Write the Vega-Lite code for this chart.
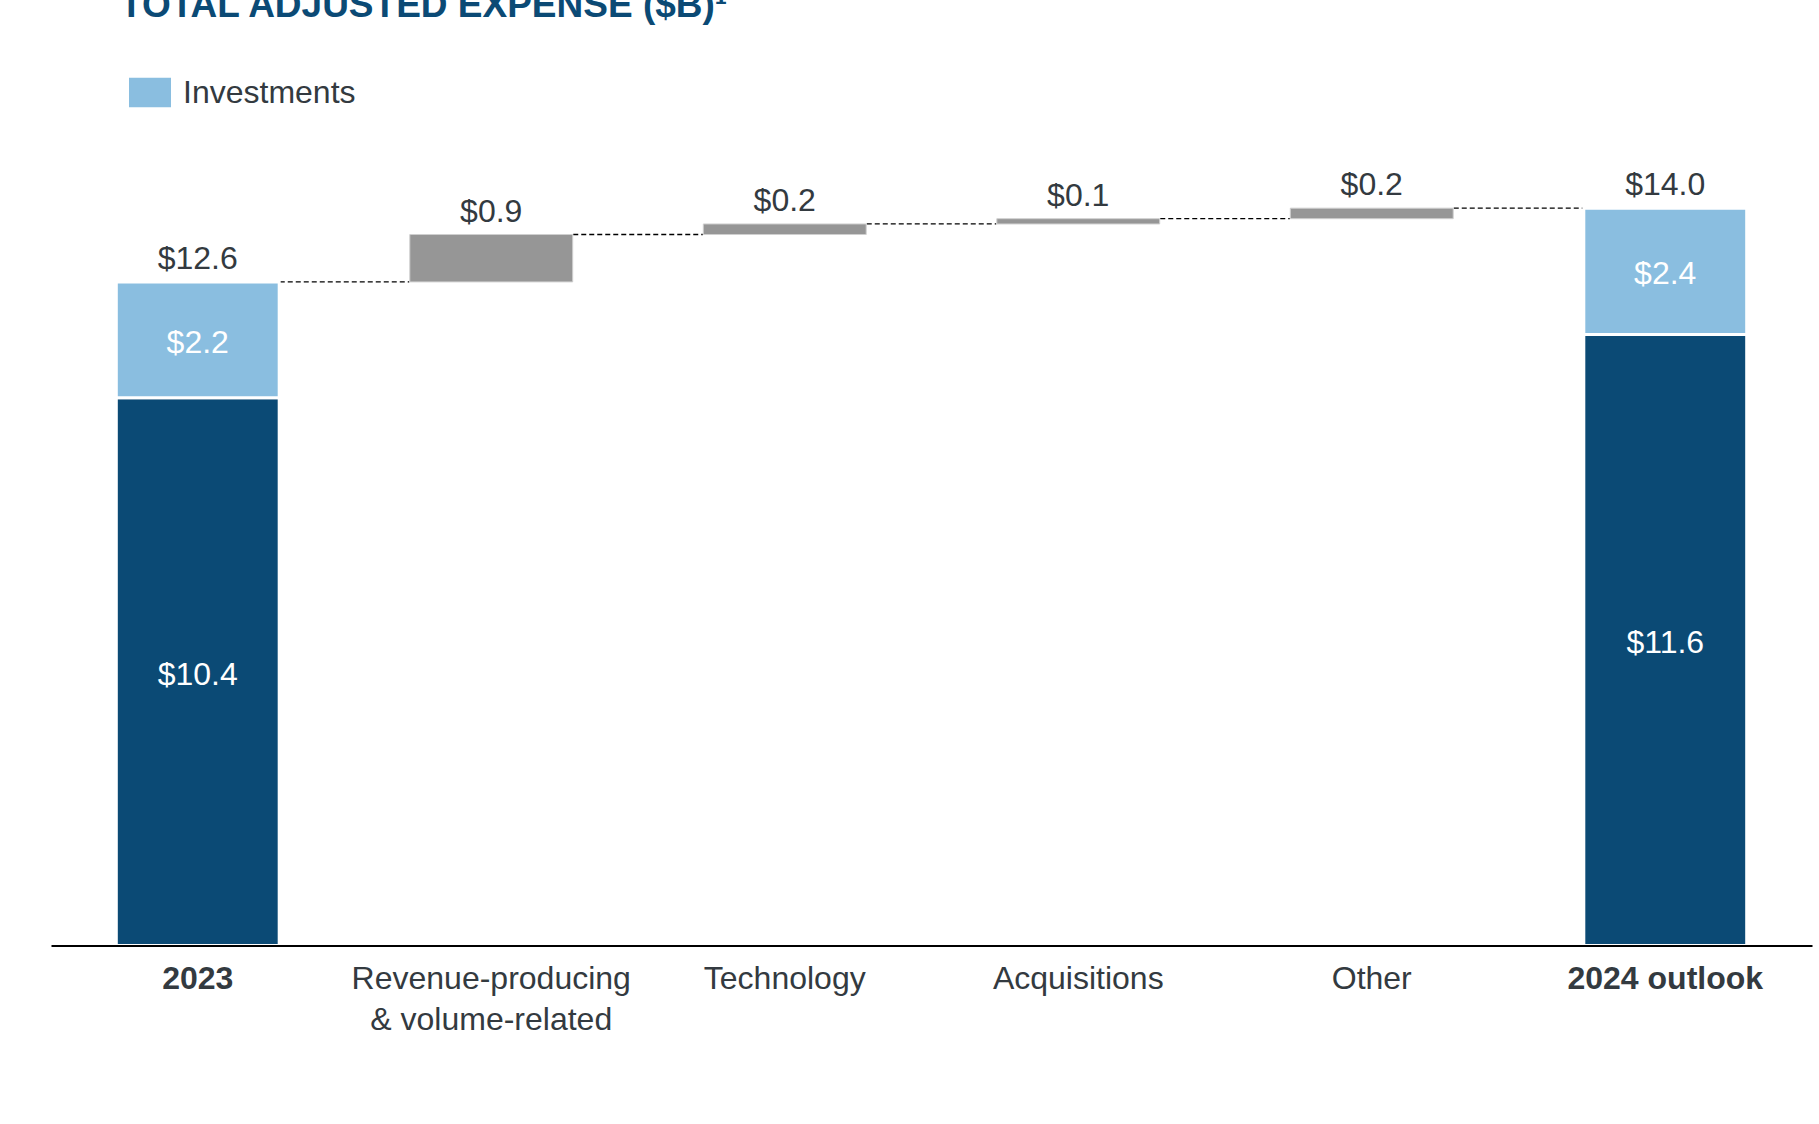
{
  "$schema": "https://vega.github.io/schema/vega-lite/v6.json",
  "autosize": "none",
  "width": 1761,
  "height": 790,
  "padding": {"left": 51, "top": 155.5, "right": 7, "bottom": 178.5},
  "background": "white",
  "config": {
    "view": {"stroke": null},
    "font": "Liberation Sans"
  },
  "title": {
    "text": "TOTAL ADJUSTED EXPENSE ($B)¹",
    "font": "Liberation Sans",
    "fontSize": 37,
    "fontWeight": "bold",
    "color": "#0b4a75",
    "anchor": "start",
    "frame": "group",
    "baseline": "alphabetic",
    "dx": 69,
    "offset": 18
  },
  "datasets": {
    "stacks": [
      {"cat": "2023", "seg": "Base", "y0": 0, "y1": 10.4, "label": "$10.4"},
      {"cat": "2023", "seg": "Investments", "y0": 10.4, "y1": 12.6, "label": "$2.2"},
      {"cat": "2024 outlook", "seg": "Base", "y0": 0, "y1": 11.6, "label": "$11.6"},
      {"cat": "2024 outlook", "seg": "Investments", "y0": 11.6, "y1": 14.0, "label": "$2.4"}
    ],
    "steps": [
      {"cat": "Revenue-producing & volume-related", "seg": "Change", "y0": 12.6, "y1": 13.5},
      {"cat": "Technology", "seg": "Change", "y0": 13.5, "y1": 13.7},
      {"cat": "Acquisitions", "seg": "Change", "y0": 13.7, "y1": 13.8},
      {"cat": "Other", "seg": "Change", "y0": 13.8, "y1": 14.0}
    ],
    "tops": [
      {"cat": "2023", "y": 12.6, "label": "$12.6"},
      {"cat": "Revenue-producing & volume-related", "y": 13.5, "label": "$0.9"},
      {"cat": "Technology", "y": 13.7, "label": "$0.2"},
      {"cat": "Acquisitions", "y": 13.8, "label": "$0.1"},
      {"cat": "Other", "y": 14.0, "label": "$0.2"},
      {"cat": "2024 outlook", "y": 14.0, "label": "$14.0"}
    ],
    "links": [
      {"from": "2023", "to": "Revenue-producing & volume-related", "y": 12.6},
      {"from": "Revenue-producing & volume-related", "to": "Technology", "y": 13.5},
      {"from": "Technology", "to": "Acquisitions", "y": 13.7},
      {"from": "Acquisitions", "to": "Other", "y": 13.8},
      {"from": "Other", "to": "2024 outlook", "y": 14.0}
    ]
  },
  "layer": [
    {
      "data": {"name": "stacks"},
      "mark": {"type": "bar", "stroke": "white", "strokeWidth": 3},
      "encoding": {
        "x": {
          "field": "cat", "type": "nominal",
          "scale": {
            "domain": ["2023", "Revenue-producing & volume-related", "Technology", "Acquisitions", "Other", "2024 outlook"],
            "paddingInner": 0.445, "paddingOuter": 0.2225
          },
          "axis": {
            "title": null,
            "zindex": 1,
            "labelAngle": 0,
            "ticks": false,
            "domainColor": "#000000",
            "domainWidth": 2,
            "labelFont": "Liberation Sans",
            "labelFontSize": 32,
            "labelColor": "#333a40",
            "labelPadding": 18,
            "labelLineHeight": 41,
            "labelBaseline": "top",
            "labelLimit": 0,
            "labelFontWeight": {"condition": {"test": "datum.value == '2023' || datum.value == '2024 outlook'", "value": "bold"}, "value": "normal"},
            "labelExpr": "datum.value == 'Revenue-producing & volume-related' ? ['Revenue-producing', '& volume-related'] : datum.value"
          }
        },
        "y": {"field": "y0", "type": "quantitative", "scale": {"domain": [0, 15], "nice": false}, "axis": null},
        "y2": {"field": "y1"},
        "color": {
          "field": "seg", "type": "nominal",
          "scale": {"domain": ["Base", "Investments", "Change"], "range": ["#0b4a75", "#8abee0", "#969696"]},
          "legend": {
            "values": ["Investments"],
            "title": null,
            "orient": "none",
            "legendX": 78,
            "legendY": -84,
            "padding": 0,
            "symbolType": "M-1,-0.7H1V0.7H-1Z",
            "symbolSize": 1764,
            "symbolStrokeWidth": 0,
            "symbolOpacity": 1,
            "labelFont": "Liberation Sans",
            "labelFontSize": 32,
            "labelColor": "#333a40",
            "labelOffset": 12,
            "labelLimit": 0,
            "labelBaseline": "middle",
            "labelOpacity": 1
          }
        }
      }
    },
    {
      "data": {"name": "links"},
      "mark": {"type": "rule", "color": "#000000", "strokeWidth": 1.3, "strokeDash": [5, 3], "xOffset": 82, "x2Offset": -82},
      "encoding": {
        "x": {"field": "from", "type": "nominal"},
        "x2": {"field": "to"},
        "y": {"field": "y", "type": "quantitative"}
      }
    },
    {
      "data": {"name": "stacks"},
      "mark": {"type": "bar", "stroke": "white", "strokeWidth": 3},
      "encoding": {
        "x": {"field": "cat", "type": "nominal"},
        "y": {"field": "y0", "type": "quantitative"},
        "y2": {"field": "y1"},
        "color": {"field": "seg", "type": "nominal"}
      }
    },
    {
      "data": {"name": "steps"},
      "mark": {"type": "bar", "stroke": "#cfcfcf", "strokeWidth": 1},
      "encoding": {
        "x": {"field": "cat", "type": "nominal"},
        "y": {"field": "y0", "type": "quantitative"},
        "y2": {"field": "y1"},
        "color": {"field": "seg", "type": "nominal"}
      }
    },
    {
      "data": {"name": "stacks"},
      "transform": [{"calculate": "(datum.y0 + datum.y1) / 2", "as": "mid"}],
      "mark": {"type": "text", "color": "white", "fontSize": 32, "font": "Liberation Sans", "baseline": "middle", "dy": 3},
      "encoding": {
        "x": {"field": "cat", "type": "nominal"},
        "y": {"field": "mid", "type": "quantitative"},
        "text": {"field": "label"}
      }
    },
    {
      "data": {"name": "tops"},
      "mark": {"type": "text", "color": "#333a40", "fontSize": 32, "font": "Liberation Sans", "baseline": "alphabetic", "dy": -13},
      "encoding": {
        "x": {"field": "cat", "type": "nominal"},
        "y": {"field": "y", "type": "quantitative"},
        "text": {"field": "label"}
      }
    }
  ]
}
